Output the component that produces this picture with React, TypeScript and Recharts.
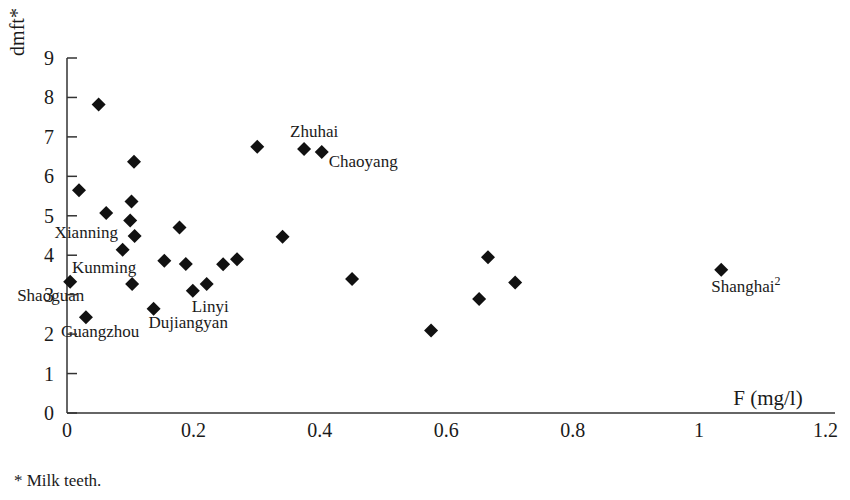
import { ScatterChart, Scatter, XAxis, YAxis } from 'recharts'

// fluoride in drinking water (mg/l) and dmft of milk teeth, one entry per survey site
const FLUORIDE = [
  0.05, 0.106, 0.019, 0.102, 0.062, 0.1, 0.107, 0.088, 0.178, 0.154, 0.188, 0.247, 0.269, 0.005, 0.103,
  0.199, 0.221, 0.137, 0.03, 0.301, 0.375, 0.403, 0.341, 0.451, 0.666, 0.709, 0.652, 0.576, 1.035,
]
const DMFT = [
  7.82, 6.37, 5.65, 5.36, 5.07, 4.88, 4.49, 4.14, 4.7, 3.86, 3.78, 3.77, 3.9, 3.33, 3.27,
  3.1, 3.27, 2.64, 2.43, 6.75, 6.69, 6.62, 4.47, 3.4, 3.95, 3.31, 2.89, 2.09, 3.63,
]
const CITY = [
  '', '', '', '', '', '', '', 'Xianning', '', '', '', '', '', 'Shaoguan', 'Kunming',
  'Linyi', '', 'Dujiangyan', 'Guangzhou', '', 'Zhuhai', 'Chaoyang', '', '', '', '', '', '', 'Shanghai²',
]
const X_TICKS = [0, 0.2, 0.4, 0.6, 0.8, 1, 1.2]
const Y_TICKS = [0, 1, 2, 3, 4, 5, 6, 7, 8, 9]

const data = FLUORIDE.map((f, i) => ({ f, dmft: DMFT[i], name: CITY[i] }))

const FONT = '"Liberation Serif", "Times New Roman", serif'
const INK = '#1a1a1a'

// where each city name sits relative to its marker (left edge, vertical centre)
const LABEL_OFFSET: Record<string, [number, number]> = {
  Xianning: [-68, -18],
  Kunming: [-60, -17],
  Shaoguan: [-53, 13],
  Guangzhou: [-25, 14],
  Dujiangyan: [-5, 13],
  Linyi: [-1, 15],
  Zhuhai: [-14, -18],
  Chaoyang: [7, 9],
  'Shanghai²': [-10, 16],
}

function Diamond(props: any) {
  const { cx, cy } = props
  const r = 7
  const name: string = props.payload?.name || ''
  const off = LABEL_OFFSET[name]
  let label = null
  if (name && off) {
    const sup = name.endsWith('²')
    const base = sup ? name.slice(0, -1) : name
    label = (
      <text x={cx + off[0]} y={cy + off[1]} dy="0.35em" fontFamily={FONT} fontSize={17} fill={INK}>
        {base}
        {sup && (
          <tspan fontSize={12} dy="-0.6em">
            2
          </tspan>
        )}
      </text>
    )
  }
  return (
    <g>
      <path d={`M${cx},${cy - r}L${cx + r},${cy}L${cx},${cy + r}L${cx - r},${cy}Z`} fill="#111" />
      {label}
    </g>
  )
}

function YTick(props: any) {
  const { x, y, payload } = props
  return (
    <g>
      <text x={x} y={y} dy="0.35em" textAnchor="end" fontFamily={FONT} fontSize={20} fill={INK}>
        {payload.value}
      </text>
      <line x1={x + 13} x2={x + 23} y1={y} y2={y} stroke="#333" strokeWidth={1.5} />
    </g>
  )
}

function XTick(props: any) {
  const { x, y, payload } = props
  return (
    <text x={x} y={y} dy="0.71em" textAnchor="middle" fontFamily={FONT} fontSize={20} fill={INK}>
      {String(payload.value)}
    </text>
  )
}

export default function App() {
  return (
    <div style={{ position: 'absolute', left: 0, top: 0, width: 850, height: 500, background: '#fff' }}>
      <ScatterChart width={850} height={500} margin={{ top: 58, right: 15, bottom: 57, left: 27 }}>
        <XAxis
          type="number"
          dataKey="f"
          domain={[0, 1.215]}
          ticks={X_TICKS}
          tick={<XTick />}
          tickLine={false}
          tickSize={0}
          tickMargin={10}
          height={30}
          axisLine={{ stroke: '#333', strokeWidth: 1.5 }}
          label={{
            content: (p: any) => {
              const vb = p.viewBox || { x: 67, y: 413, width: 768 }
              return (
                <text x={vb.x + vb.width - 67} y={vb.y - 15} textAnchor="middle" dy="0.35em" fontFamily={FONT} fontSize={21} fill={INK}>
                  F (mg/l)
                </text>
              )
            },
          }}
        />
        <YAxis
          type="number"
          dataKey="dmft"
          domain={[0, 9]}
          ticks={Y_TICKS}
          tick={<YTick />}
          tickLine={false}
          tickSize={0}
          tickMargin={13}
          width={40}
          axisLine={{ stroke: '#333', strokeWidth: 1.5 }}
          label={{
            content: (p: any) => {
              const vb = p.viewBox || { x: 27, y: 58 }
              const cx = vb.x - 10
              const cy = vb.y - 26
              return (
                <text x={cx} y={cy} transform={`rotate(-90 ${cx} ${cy})`} textAnchor="middle" dy="0.35em" fontFamily={FONT} fontSize={20} fill={INK}>
                  dmft*
                </text>
              )
            },
          }}
        />
        <Scatter data={data} shape={<Diamond />} isAnimationActive={false} />
      </ScatterChart>
      <div style={{ position: 'absolute', left: 14, top: 471, fontFamily: FONT, fontSize: 17, color: INK }}>
        * Milk teeth.
      </div>
    </div>
  )
}
